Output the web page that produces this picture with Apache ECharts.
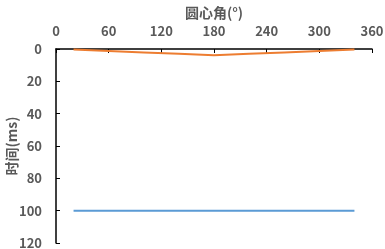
<!DOCTYPE html>
<html><head><meta charset="utf-8">
<script src="https://cdn.jsdelivr.net/npm/echarts@6/dist/echarts.min.js"></script>
<style>html,body{margin:0;padding:0;background:#fff}#c{width:385px;height:249px}</style>
</head><body><div id="c"></div>
<script>
const angles = [20, 60, 100, 140, 180, 220, 260, 300, 340];
const orangeVals = [0.3, 1.2, 2.1, 3.0, 3.9, 3.0, 2.1, 1.2, 0.3];
const blueVals = [100, 100, 100, 100, 100, 100, 100, 100, 100];
const xTitle = '圆心角(°)';
const yTitle = '时间(ms)';

const chart = echarts.init(document.getElementById('c'), null, {renderer: 'canvas'});
const font = '"Noto Sans CJK SC", "Open Sans", sans-serif';
const lbl = {color: '#595959', fontSize: 13, fontWeight: 'bold', fontFamily: font};
chart.setOption({
  animation: false,
  grid: {left: 56, right: 13, top: 49, bottom: 6, containLabel: false, outerBoundsMode: 'none'},
  xAxis: {
    type: 'value', position: 'top', min: 0, max: 360, interval: 60,
    name: xTitle, nameLocation: 'middle', nameGap: 29, nameMoveOverlap: false,
    nameTextStyle: {color: '#595959', fontSize: 14, fontWeight: 'bold', fontFamily: font},
    axisLine: {onZero: false, lineStyle: {color: '#000', width: 1.5}},
    axisTick: {inside: true, length: 4, lineStyle: {color: '#000'}},
    axisLabel: Object.assign({margin: 11}, lbl),
    splitLine: {show: false}
  },
  yAxis: {
    type: 'value', inverse: true, min: 0, max: 120, interval: 20,
    name: yTitle, nameLocation: 'middle', nameGap: 37, nameMoveOverlap: false,
    nameTextStyle: {color: '#595959', fontSize: 14, fontWeight: 'bold', fontFamily: font},
    axisLine: {show: true, onZero: false, lineStyle: {color: '#000', width: 1.5}},
    axisTick: {show: true, inside: true, length: 4, lineStyle: {color: '#000'}},
    axisLabel: Object.assign({margin: 14}, lbl),
    splitLine: {show: false}
  },
  series: [
    {type: 'line', data: angles.map((a, i) => [a, blueVals[i]]), showSymbol: false,
     lineStyle: {color: '#5B9BD5', width: 2}},
    {type: 'line', data: angles.map((a, i) => [a, orangeVals[i]]), showSymbol: false,
     lineStyle: {color: '#ED7D31', width: 2}}
  ]
});
</script></body></html>
